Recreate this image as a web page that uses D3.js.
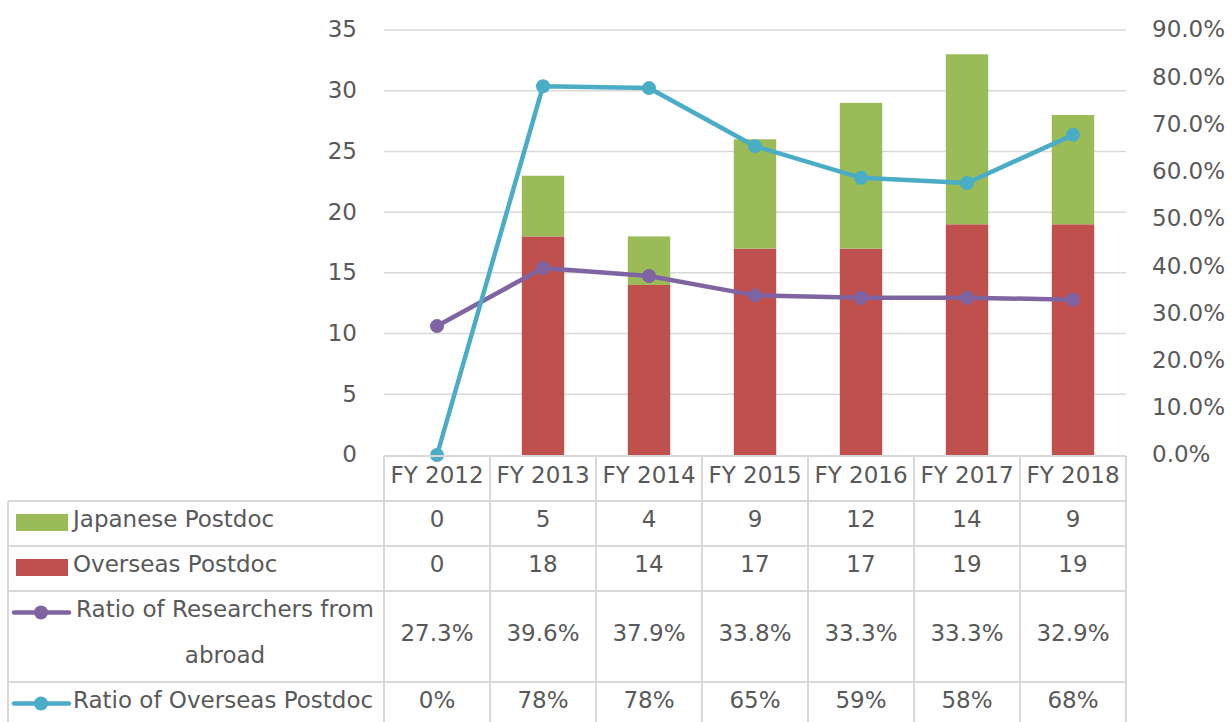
<!DOCTYPE html>
<html>
<head>
<meta charset="utf-8">
<script src="https://cdn.jsdelivr.net/npm/d3@7"></script>
<style>
  body { margin: 0; background: #fff; }
  svg { display: block; font-family: "DejaVu Sans", Verdana, sans-serif; }
</style>
</head>
<body>
<svg id="chart" width="1231" height="722"></svg>
<script>
// chart data
const years = ["FY 2012", "FY 2013", "FY 2014", "FY 2015", "FY 2016", "FY 2017", "FY 2018"];
const japanese = [0, 5, 4, 9, 12, 14, 9];
const overseas = [0, 18, 14, 17, 17, 19, 19];
const ratioAbroad = [0.273, 0.396, 0.379, 0.338, 0.333, 0.333, 0.329];
const ratioOverseas = [0, 0.781, 0.777, 0.654, 0.587, 0.576, 0.678];
const ratioOverseasLabels = ["0%", "78%", "78%", "65%", "59%", "58%", "68%"];
const leftTicks = [0, 5, 10, 15, 20, 25, 30, 35];
const rightTicks = [0, 0.1, 0.2, 0.3, 0.4, 0.5, 0.6, 0.7, 0.8, 0.9];

drawChart();

function drawChart() {
  let left = 384,
    right = 1126,
    top = 30,
    bottom = 455,
    textColor = "#595959",
    gridColor = "#D9D9D9";

  let green = "#9BBB59",
    red = "#C0504D",
    purple = "#8064A2",
    cyan = "#4BACC6";

  let svg = d3.select("#chart");

  let xScale = d3.scaleBand().domain(years).range([left, right]);
  let yLeft = d3.scaleLinear().domain([0, 35]).range([bottom, top]);
  let yRight = d3.scaleLinear().domain([0, 0.9]).range([bottom, top]);
  let bw = xScale.bandwidth();
  let cx = (d) => xScale(d) + bw / 2;

  // gridlines
  svg.append("g")
    .selectAll("line")
    .data(leftTicks.filter((t) => t > 0))
    .enter()
    .append("line")
    .attr("x1", left)
    .attr("x2", right)
    .attr("y1", (d) => yLeft(d))
    .attr("y2", (d) => yLeft(d))
    .attr("stroke", gridColor)
    .attr("stroke-width", 1.5);

  // left axis
  let yAxisL = d3.axisLeft(yLeft).tickValues(leftTicks).tickSize(0).tickPadding(27);
  let gL = svg.append("g").attr("transform", `translate(${left},0)`).call(yAxisL);
  gL.select(".domain").remove();
  gL.selectAll("text")
    .style("font-size", "23px")
    .style("font-family", "DejaVu Sans")
    .attr("fill", textColor)
    .attr("dy", "0.3em");

  // right axis
  let yAxisR = d3.axisRight(yRight).tickValues(rightTicks).tickSize(0)
    .tickPadding(26).tickFormat(d3.format(".1%"));
  let gR = svg.append("g").attr("transform", `translate(${right},0)`).call(yAxisR);
  gR.select(".domain").remove();
  gR.selectAll("text")
    .style("font-size", "23px")
    .style("font-family", "DejaVu Sans")
    .attr("fill", textColor)
    .attr("dy", "0.3em");

  // stacked bars
  let barW = bw * 0.4;
  svg.append("g")
    .selectAll("rect")
    .data(years)
    .enter()
    .append("rect")
    .attr("x", (d) => cx(d) - barW / 2)
    .attr("width", barW)
    .attr("y", (d, i) => yLeft(overseas[i]))
    .attr("height", (d, i) => yLeft(0) - yLeft(overseas[i]))
    .attr("fill", red);

  svg.append("g")
    .selectAll("rect")
    .data(years)
    .enter()
    .append("rect")
    .attr("x", (d) => cx(d) - barW / 2)
    .attr("width", barW)
    .attr("y", (d, i) => yLeft(overseas[i] + japanese[i]))
    .attr("height", (d, i) => yLeft(overseas[i]) - yLeft(overseas[i] + japanese[i]))
    .attr("fill", green);

  // lines
  let series = [
    { values: ratioAbroad, color: purple },
    { values: ratioOverseas, color: cyan },
  ];
  series.forEach((s) => {
    let line = d3.line()
      .x((d, i) => cx(years[i]))
      .y((d) => yRight(d));
    svg.append("path")
      .datum(s.values)
      .attr("d", line)
      .attr("fill", "none")
      .attr("stroke", s.color)
      .attr("stroke-width", 4.5)
      .attr("stroke-linejoin", "round");
    svg.append("g")
      .selectAll("circle")
      .data(s.values)
      .enter()
      .append("circle")
      .attr("cx", (d, i) => cx(years[i]))
      .attr("cy", (d) => yRight(d))
      .attr("r", 7)
      .attr("fill", s.color);
  });

  // data table
  let tableLeft = 8;
  let headerTop = 456;
  let rows = [
    { label: ["Japanese Postdoc"], key: "rect", color: green, cells: japanese.map(String), top: 501, h: 45 },
    { label: ["Overseas Postdoc"], key: "rect", color: red, cells: overseas.map(String), top: 546, h: 45 },
    { label: ["Ratio of Researchers from", "abroad"], key: "line", color: purple,
      cells: ratioAbroad.map(d3.format(".1%")), top: 591, h: 91 },
    { label: ["Ratio of Overseas Postdoc"], key: "line", color: cyan, cells: ratioOverseasLabels, top: 682, h: 45 },
  ];

  let table = svg.append("g")
    .style("font-size", "23px")
    .attr("fill", textColor);

  // header row
  table.selectAll(".hdr")
    .data(years)
    .enter()
    .append("text")
    .attr("class", "hdr")
    .attr("x", (d) => cx(d))
    .attr("y", headerTop + 27)
    .attr("text-anchor", "middle")
    .text((d) => d);

  // borders
  let borders = table.append("g")
    .attr("stroke", gridColor)
    .attr("stroke-width", 2)
    .attr("fill", "none");
  borders.append("line").attr("x1", left).attr("x2", right).attr("y1", headerTop).attr("y2", headerTop);
  rows.forEach((r) => {
    borders.append("line").attr("x1", tableLeft).attr("x2", right).attr("y1", r.top).attr("y2", r.top);
  });
  borders.append("line").attr("x1", tableLeft).attr("x2", tableLeft).attr("y1", rows[0].top).attr("y2", 722);
  borders.selectAll(".vline")
    .data(years)
    .enter()
    .append("line")
    .attr("x1", (d) => xScale(d))
    .attr("x2", (d) => xScale(d))
    .attr("y1", headerTop)
    .attr("y2", 722);
  borders.append("line").attr("x1", right).attr("x2", right).attr("y1", headerTop).attr("y2", 722);

  rows.forEach((r) => {
    let base = r.top + 26;
    // legend key
    if (r.key === "rect") {
      table.append("rect")
        .attr("x", 16).attr("y", base - 13)
        .attr("width", 52).attr("height", 17)
        .attr("fill", r.color);
    } else {
      table.append("line")
        .attr("x1", 14).attr("x2", 69)
        .attr("y1", base - 4.5).attr("y2", base - 4.5)
        .attr("stroke", r.color).attr("stroke-width", 4.5)
        .attr("stroke-linecap", "round");
      table.append("circle")
        .attr("cx", 41).attr("cy", base - 4.5).attr("r", 7)
        .attr("fill", r.color);
    }
    // legend label
    if (r.label.length === 1) {
      table.append("text").attr("x", 73).attr("y", base).text(r.label[0]);
    } else {
      r.label.forEach((t, j) => {
        table.append("text")
          .attr("x", 225).attr("y", base + j * 46)
          .attr("text-anchor", "middle")
          .text(t);
      });
    }
    // values
    let valBase = r.h > 50 ? r.top + 50 : base;
    table.selectAll(null)
      .data(r.cells)
      .enter()
      .append("text")
      .attr("x", (d, i) => cx(years[i]))
      .attr("y", valBase)
      .attr("text-anchor", "middle")
      .text((d) => d);
  });
}
</script>
</body>
</html>
